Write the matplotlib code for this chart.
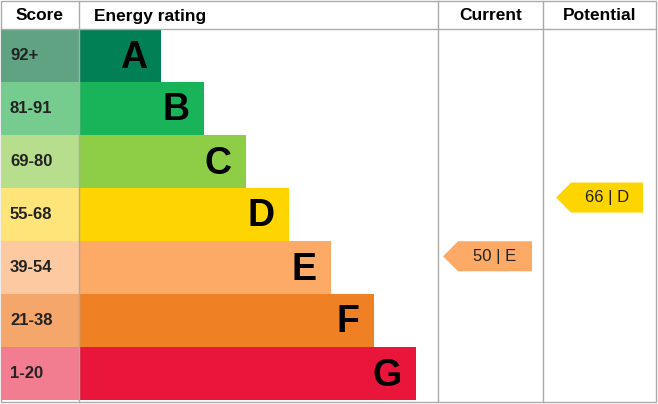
import matplotlib
matplotlib.use("Agg")
import matplotlib.pyplot as plt
from matplotlib.patches import Rectangle, Polygon

letters = ["A", "B", "C", "D", "E", "F", "G"]
ranges = ["92+", "81-91", "69-80", "55-68", "39-54", "21-38", "1-20"]
lows = [92, 81, 69, 55, 39, 21, 1]
highs = [100, 91, 80, 68, 54, 38, 20]
bar_colors = ["#008054", "#19b459", "#8dce46", "#ffd500", "#fcaa65", "#ef8023", "#e9153b"]
score_colors = ["#5fa383", "#76cc8f", "#b6de8c", "#ffe47a", "#fdc9a0", "#f4a66b", "#f27d91"]
current = 50
current_letter = "E"
potential = 66
potential_letter = "D"

W, H = 658, 404
fig = plt.figure(figsize=(W/100, H/100), dpi=100)
ax = fig.add_axes([0, 0, 1, 1])
ax.set_xlim(0, W); ax.set_ylim(H, 0); ax.axis("off")

top, row_h = 29, 53
x0, x_bar0 = 1, 79
bar_end0, bar_step = 161, 42.5
cur_x0, pot_x0, right = 438, 543, 656
font = "Liberation Sans"

ax.add_patch(Rectangle((x0, 1), right - x0, H - 3, fill=False, ec="#aaaaaa", lw=1))
for xv in [x_bar0, cur_x0, pot_x0]:
    ax.plot([xv, xv], [1, H - 2], color="#aaaaaa", lw=1)
ax.plot([x0, right], [top, top], color="#aaaaaa", lw=1)
ax.text(40, 16, "Score", ha="center", va="center", fontsize=12.5, fontweight="bold", family=font)
ax.text(94, 16, "Energy rating", ha="left", va="center", fontsize=12.5, fontweight="bold", family=font)
ax.text((cur_x0 + pot_x0)/2, 16, "Current", ha="center", va="center", fontsize=12.5, fontweight="bold", family=font)
ax.text((pot_x0 + right)/2, 16, "Potential", ha="center", va="center", fontsize=12.5, fontweight="bold", family=font)

for i, (l, r, bc, sc) in enumerate(zip(letters, ranges, bar_colors, score_colors)):
    y = top + i * row_h
    ax.add_patch(Rectangle((x0, y), x_bar0 - x0, row_h, color=sc, lw=0))
    end = bar_end0 + i * bar_step
    ax.add_patch(Rectangle((x_bar0, y), end - x_bar0, row_h, color=bc, lw=0))
    ax.text(10, y + row_h/2, r, ha="left", va="center", fontsize=12, fontweight="bold", family=font, color="#222222")
    ax.text(end - 14, y + row_h/2 + 2, l, ha="right", va="center", fontsize=27, fontweight="bold", family=font, color="black")

def ypos(score):
    for i in range(7):
        if lows[i] <= score <= highs[i]:
            return top + i * row_h + (highs[i] - score) / (highs[i] - lows[i] + 1) * row_h + 2
    return top

def arrow(xl, xr, score, letter):
    i = letters.index(letter)
    yc = ypos(score)
    h = 30
    pts = [(xl, yc), (xl + 15, yc - h/2), (xr, yc - h/2), (xr, yc + h/2), (xl + 15, yc + h/2)]
    ax.add_patch(Polygon(pts, closed=True, color=bar_colors[i], lw=0))
    ax.text((xl + 15 + xr)/2, yc, f"{score} | {letter}", ha="center", va="center", fontsize=12, family=font, color="#222222")

arrow(443, 532, current, current_letter)
arrow(556, 643, potential, potential_letter)

fig.savefig("out.png", dpi=100)
